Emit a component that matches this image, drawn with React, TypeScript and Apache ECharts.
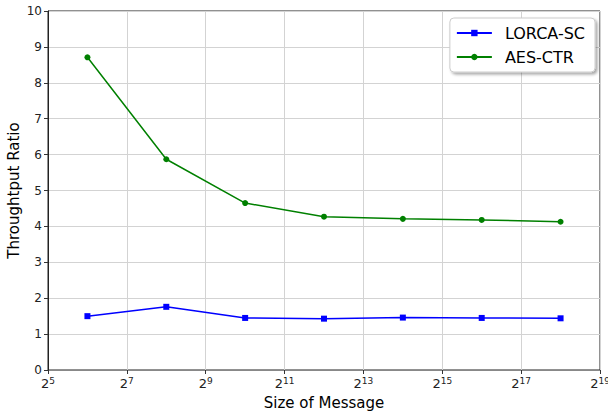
import React, { useEffect, useRef } from "react";
import * as echarts from "echarts";

const exponents = [6, 8, 10, 12, 14, 16, 18];
const lorcaSC = [1.5, 1.76, 1.45, 1.43, 1.46, 1.45, 1.44];
const aesCTR = [8.71, 5.87, 4.65, 4.27, 4.21, 4.18, 4.13];
const xMinExp = 5;
const xMaxExp = 19;
const yTicks = [0, 1, 2, 3, 4, 5, 6, 7, 8, 9, 10];

const FONT = "DejaVu Sans";

export default function App() {
  const ref = useRef<HTMLDivElement>(null);
  useEffect(() => {
    if (!ref.current) return;
    const chart = echarts.init(ref.current, undefined, { renderer: "svg" });
    const shift = (e: number) => e - xMinExp;
    chart.setOption({
      animation: false,
      textStyle: { fontFamily: FONT },
      grid: {
        left: 48, right: 8, top: 11, bottom: 45,
        containLabel: false, outerBoundsMode: "none",
        show: true, borderColor: "#222", borderWidth: 1, backgroundColor: "transparent",
      },
      legend: {
        right: 13,
        top: 18,
        orient: "vertical",
        itemWidth: 35,
        itemHeight: 8,
        itemGap: 8,
        padding: [7, 10, 7, 6],
        backgroundColor: "#fff",
        borderColor: "#ccc",
        borderWidth: 1,
        borderRadius: 4,
        shadowColor: "rgba(0,0,0,0.35)",
        shadowBlur: 3,
        shadowOffsetX: 2,
        shadowOffsetY: 2,
        textStyle: { fontFamily: FONT, fontSize: 16, color: "#000", padding: [0, 0, 0, 8] },
        data: ["LORCA-SC", "AES-CTR"],
      },
      xAxis: {
        type: "value",
        min: 0,
        max: xMaxExp - xMinExp,
        interval: 2,
        name: "Size of Message",
        nameLocation: "middle",
        nameGap: 25,
        nameMoveOverlap: false,
        nameTextStyle: { fontFamily: FONT, fontSize: 15, color: "#000" },
        axisLine: { show: true, lineStyle: { color: "#888", width: 1 } },
        axisTick: { show: true, inside: false, length: 4, lineStyle: { color: "#333" } },
        splitLine: { show: true, lineStyle: { color: "#d3d3d3", width: 1 } },
        axisLabel: {
          margin: 6,
          formatter: (v: number) => `{b|2}{s|${v + xMinExp}}`,
          rich: {
            b: { fontFamily: FONT, fontSize: 13, color: "#222" },
            s: { fontFamily: FONT, fontSize: 9, color: "#222", verticalAlign: "top", padding: [0, 0, 5, 0] },
          },
        },
      },
      yAxis: {
        type: "value",
        min: yTicks[0],
        max: yTicks[yTicks.length - 1],
        interval: 1,
        name: "Throughtput Ratio",
        nameLocation: "middle",
        nameGap: 27,
        nameMoveOverlap: false,
        nameTextStyle: { fontFamily: FONT, fontSize: 15, color: "#000" },
        axisLine: { show: true, lineStyle: { color: "#222", width: 1 } },
        axisTick: { show: true, inside: false, length: 4, lineStyle: { color: "#333" } },
        splitLine: { show: true, lineStyle: { color: "#d3d3d3", width: 1 } },
        axisLabel: { fontFamily: FONT, fontSize: 12, color: "#222", margin: 6 },
      },
      series: [
        {
          name: "LORCA-SC",
          type: "line",
          data: exponents.map((e, i) => [shift(e), lorcaSC[i]]),
          symbol: "rect",
          symbolSize: 6,
          lineStyle: { color: "#0000ff", width: 1.5 },
          itemStyle: { color: "#0000ff" },
        },
        {
          name: "AES-CTR",
          type: "line",
          data: exponents.map((e, i) => [shift(e), aesCTR[i]]),
          symbol: "circle",
          symbolSize: 6,
          lineStyle: { color: "#008000", width: 1.5 },
          itemStyle: { color: "#008000" },
        },
      ],
    });
    return () => chart.dispose();
  }, []);
  return <div ref={ref} style={{ width: 608, height: 415, position: "absolute", left: 0, top: 0 }} />;
}
